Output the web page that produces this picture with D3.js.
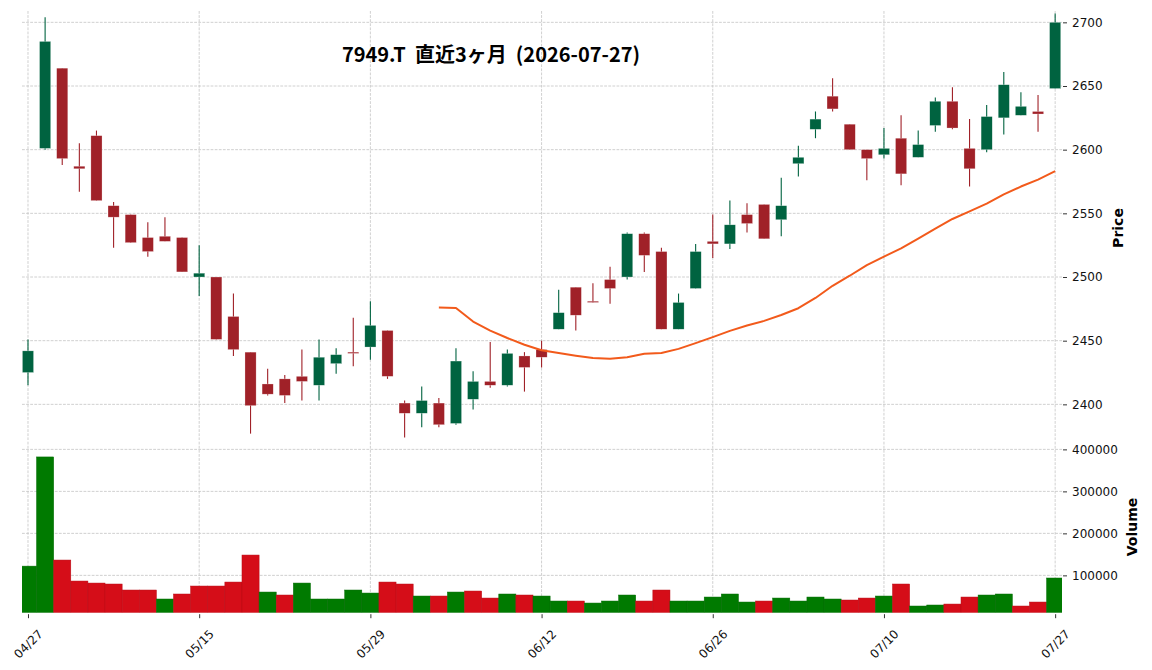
<!DOCTYPE html>
<html>
<head>
<meta charset="utf-8">
<script src="https://cdn.jsdelivr.net/npm/d3@7"></script>
<style>
	body { margin: 0; background: #fff; }
	svg { display: block; }
	text { font-family: "DejaVu Sans", sans-serif; }
</style>
</head>
<body>
<svg id="chart"></svg>
<script>
// trading days shown on the chart
const dates = ["04/27","04/28","04/30","05/01","05/07","05/08","05/11","05/12","05/13","05/14",
	"05/15","05/18","05/19","05/20","05/21","05/22","05/25","05/26","05/27","05/28",
	"05/29","06/01","06/02","06/03","06/04","06/05","06/08","06/09","06/10","06/11",
	"06/12","06/15","06/16","06/17","06/18","06/19","06/22","06/23","06/24","06/25",
	"06/26","06/29","06/30","07/01","07/02","07/03","07/06","07/07","07/08","07/09",
	"07/10","07/13","07/14","07/15","07/16","07/17","07/21","07/22","07/23","07/24","07/27"];

const opens = [2425, 2601, 2664, 2587, 2611, 2556, 2549, 2531, 2532, 2531,
	2500, 2500, 2469, 2441, 2416, 2420, 2422, 2415, 2432, 2441,
	2445, 2458, 2401, 2393, 2401, 2385, 2404, 2418, 2415, 2438,
	2443, 2459, 2492, 2481, 2498, 2500, 2534, 2520, 2459, 2491,
	2528, 2526, 2549, 2557, 2545, 2589, 2616, 2642, 2620, 2600,
	2596, 2609, 2594, 2619, 2638, 2601, 2600, 2625, 2627, 2630, 2648];
const highs = [2451, 2704, 2664, 2605, 2615, 2559, 2549, 2543, 2547, 2531,
	2525, 2500, 2487, 2441, 2428, 2423, 2443, 2451, 2444, 2468,
	2481, 2458, 2403, 2414, 2405, 2444, 2426, 2449, 2443, 2441,
	2450, 2490, 2492, 2495, 2508, 2535, 2535, 2523, 2487, 2526,
	2549, 2560, 2558, 2557, 2578, 2603, 2630, 2656, 2620, 2600,
	2617, 2627, 2615, 2641, 2649, 2624, 2635, 2661, 2645, 2643, 2707];
const lows = [2415, 2600, 2588, 2567, 2560, 2523, 2527, 2516, 2528, 2504,
	2485, 2451, 2438, 2377, 2407, 2401, 2403, 2403, 2424, 2430,
	2435, 2420, 2374, 2382, 2382, 2384, 2396, 2413, 2414, 2410,
	2429, 2459, 2458, 2480, 2479, 2498, 2504, 2459, 2459, 2491,
	2515, 2522, 2535, 2530, 2532, 2579, 2609, 2630, 2600, 2576,
	2593, 2572, 2594, 2614, 2616, 2571, 2598, 2612, 2627, 2614, 2648];
const closes = [2442, 2685, 2593, 2585, 2560, 2547, 2527, 2520, 2528, 2504,
	2503, 2451, 2443, 2399, 2408, 2407, 2418, 2437, 2439, 2440,
	2462, 2422, 2393, 2403, 2384, 2434, 2418, 2415, 2440, 2429,
	2437, 2472, 2470, 2480, 2491, 2534, 2517, 2459, 2480, 2520,
	2526, 2541, 2542, 2530, 2556, 2594, 2624, 2632, 2600, 2593,
	2601, 2581, 2604, 2638, 2617, 2585, 2626, 2651, 2634, 2628, 2700];
const volumes = [122000, 382000, 136500, 86500, 81700, 79400, 65100, 65100, 43700, 55600,
	74600, 74600, 84100, 148400, 60300, 53200, 81700, 43700, 43700, 65100,
	57900, 84100, 79400, 50800, 50800, 60300, 62700, 46000, 55600, 53200,
	50800, 38900, 38900, 34100, 38900, 53200, 38900, 65100, 38900, 38900,
	48400, 55600, 36500, 38900, 46000, 38900, 48400, 43700, 41300, 46000,
	50800, 79400, 27000, 29400, 31700, 48400, 53200, 55600, 27000, 36500, 93700];

const tickLabels = ["04/27", "05/15", "05/29", "06/12", "06/26", "07/10", "07/27"];
const priceTicks = [2400, 2450, 2500, 2550, 2600, 2650, 2700];
const volumeTicks = [100000, 200000, 300000, 400000];
const maWindow = 25;
const title = "7949.T  直近3ヶ月  (2026-07-27)";

const width = 1152;
const height = 670;
const left = 22, right = 1062;
const priceTop = 11, priceBottom = 440;
const volTop = 441.7, volBottom = 612.7;

const upColor = "#006340", downColor = "#A02128";
const volUp = "#007a00", volDown = "#d50d18";
const gridColor = "#c4c4c4";

const n = dates.length;
const candles = d3.range(n).map((i) => ({
	i,
	open: opens[i],
	high: highs[i],
	low: lows[i],
	close: closes[i],
	volume: volumes[i]
}));

// 25-day moving average of the closes
const ma = [];
for (let i = maWindow - 1; i < n; i++) {
	ma.push({ i, value: d3.mean(closes.slice(i - maWindow + 1, i + 1)) });
}

const x = d3.scaleLinear().domain([-0.35, n - 0.6]).range([left, right]);
const step = x(1) - x(0);
const yPrice = d3.scaleLinear().domain([2372, 2708.9]).range([priceBottom, priceTop]);
const yVol = d3.scaleLinear().domain([11100, 418300]).range([volBottom, volTop]);

const svg = d3.select("#chart")
	.attr("width", width)
	.attr("height", height);

svg.append("clipPath").attr("id", "volClip")
	.append("rect")
	.attr("x", left).attr("y", volTop)
	.attr("width", right - left).attr("height", volBottom - volTop);

const tickIdx = tickLabels.map((l) => dates.indexOf(l));

// grids
function grid(yScale, ticks, top, bottom) {
	const g = svg.append("g")
		.attr("stroke", gridColor)
		.attr("stroke-width", 0.8)
		.attr("stroke-dasharray", "2.8,1.3");
	g.selectAll(".h").data(ticks).join("line")
		.attr("x1", left).attr("x2", right)
		.attr("y1", (d) => yScale(d)).attr("y2", (d) => yScale(d));
	g.selectAll(".v").data(tickIdx).join("line")
		.attr("x1", (d) => x(d)).attr("x2", (d) => x(d))
		.attr("y1", top).attr("y2", bottom);
}
grid(yPrice, priceTicks, priceTop, priceBottom);
grid(yVol, volumeTicks, volTop, volBottom);

// candles
const candleG = svg.append("g");
candleG.selectAll("line")
	.data(candles)
	.join("line")
	.attr("x1", (d) => x(d.i)).attr("x2", (d) => x(d.i))
	.attr("y1", (d) => yPrice(d.high)).attr("y2", (d) => yPrice(d.low))
	.attr("stroke", (d) => (d.close >= d.open ? upColor : downColor))
	.attr("stroke-width", 1.1);

const bodyW = step * 0.65;
candleG.selectAll("rect")
	.data(candles)
	.join("rect")
	.attr("x", (d) => x(d.i) - bodyW / 2)
	.attr("width", bodyW)
	.attr("y", (d) => yPrice(Math.max(d.open, d.close)))
	.attr("height", (d) => Math.max(Math.abs(yPrice(d.open) - yPrice(d.close)), 1.2))
	.attr("fill", (d) => (d.close >= d.open ? upColor : downColor))
	.attr("stroke", "#ffffff")
	.attr("stroke-opacity", 0.5)
	.attr("stroke-width", 0.5);

// moving average
svg.append("path")
	.datum(ma)
	.attr("fill", "none")
	.attr("stroke", "#f25a1b")
	.attr("stroke-width", 2)
	.attr("stroke-linejoin", "round")
	.attr("d", d3.line().x((d) => x(d.i)).y((d) => yPrice(d.value)));

// volume, coloured by change from previous close
function volColor(d) {
	const prev = d.i > 0 ? closes[d.i - 1] : d.open;
	return d.close >= prev ? volUp : volDown;
}
svg.append("g")
	.attr("clip-path", "url(#volClip)")
	.selectAll("rect")
	.data(candles)
	.join("rect")
	.attr("x", (d) => x(d.i) - step / 2)
	.attr("width", step)
	.attr("y", (d) => yVol(d.volume))
	.attr("height", (d) => volBottom - yVol(d.volume))
	.attr("fill", volColor)
	.attr("stroke", (d) => d3.color(volColor(d)).darker(0.4))
	.attr("stroke-width", 0.5);

// right axes
function rightAxis(yScale, ticks) {
	const g = svg.append("g")
		.attr("transform", `translate(${right + 1},0)`)
		.call(d3.axisRight(yScale).tickValues(ticks).tickSize(4).tickPadding(5).tickFormat(d3.format("d")));
	g.select(".domain").remove();
	g.selectAll(".tick line").attr("stroke", "#333");
	g.selectAll("text")
		.style("font-family", "DejaVu Sans")
		.style("font-size", "12px")
		.attr("fill", "#111");
}
rightAxis(yPrice, priceTicks);
rightAxis(yVol, volumeTicks);

// bottom axis with rotated dates
const xAxis = svg.append("g")
	.attr("transform", `translate(0,${volBottom + 1.5})`)
	.call(d3.axisBottom(x).tickValues(tickIdx).tickSize(4).tickFormat((i) => dates[i]));
xAxis.select(".domain").remove();
xAxis.selectAll(".tick line").attr("stroke", "#333");
xAxis.selectAll("text")
	.attr("y", 0)
	.attr("dy", null)
	.attr("transform", "translate(0,30) rotate(-45)")
	.attr("text-anchor", "middle")
	.attr("dominant-baseline", "central")
	.style("font-family", "DejaVu Sans")
	.style("font-size", "12px")
	.attr("fill", "#111");

// labels
svg.append("text")
	.attr("transform", "translate(1118,228) rotate(-90)")
	.attr("text-anchor", "middle")
	.attr("dominant-baseline", "central")
	.style("font-size", "14px")
	.style("font-weight", "bold")
	.text("Price");

svg.append("text")
	.attr("transform", "translate(1132,527) rotate(-90)")
	.attr("text-anchor", "middle")
	.attr("dominant-baseline", "central")
	.style("font-size", "14px")
	.style("font-weight", "bold")
	.text("Volume");

svg.append("text")
	.attr("x", 491)
	.attr("y", 62)
	.attr("text-anchor", "middle")
	.style("white-space", "pre")
	.style("font-family", "'Noto Sans CJK JP', sans-serif")
	.style("font-size", "20px")
	.style("font-weight", "bold")
	.text(title);
</script>
</body>
</html>
